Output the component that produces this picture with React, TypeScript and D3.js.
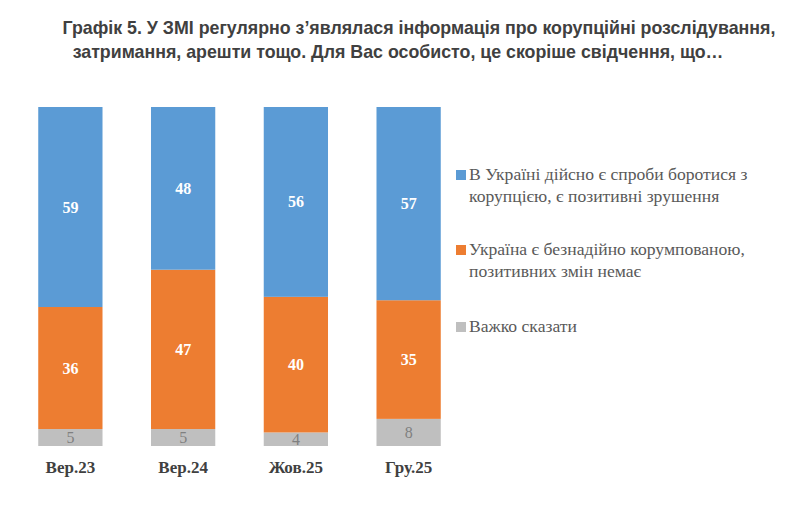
import React from "react";
import * as d3 from "d3";

const categories = ["Вер.23", "Вер.24", "Жов.25", "Гру.25"];
const positive = [59, 48, 56, 57];
const hopeless = [36, 47, 40, 35];
const hard = [5, 5, 4, 8];
const seriesNames = [
  ["В Україні дійсно є спроби боротися з", "корупцією, є позитивні зрушення"],
  ["Україна є безнадійно корумпованою,", "позитивних змін немає"],
  ["Важко сказати"],
];
const titleLines = [
  "Графік 5. У ЗМІ регулярно з’являлася інформація про корупційні розслідування,",
  "затримання, арешти тощо. Для Вас особисто, це скоріше свідчення, що…",
];

const colors = ["#5B9BD5", "#ED7D31", "#BFBFBF"];

export default function App() {
  const W = 792, H = 510;
  const x = d3.scaleBand<string>().domain(categories).range([14, 465]).paddingInner(0.43).paddingOuter(0.215);
  const y = d3.scaleLinear().domain([0, 100]).range([446, 107]);
  const rows = categories.map((c, i) => ({ c, pos: positive[i], hop: hopeless[i], hard: hard[i] }));
  const stack = d3.stack<any>().keys(["hard", "hop", "pos"])(rows);
  const serif = "Liberation Serif, Times New Roman, DejaVu Serif, serif";
  const sans = "Arial, Liberation Sans, sans-serif";
  const colorByKey: Record<string, string> = { pos: colors[0], hop: colors[1], hard: colors[2] };
  const legendY = [180, 255, 332];
  return (
    <svg width={W} height={H} style={{ position: "absolute", left: 0, top: 0, background: "#fff" }}>
      <rect width={W} height={H} fill="#fff" />
      {titleLines.map((t, i) => (
        <text key={i} x={i === 0 ? 419 : 398} y={34 + i * 24} textAnchor="middle" fontFamily={sans}
          fontWeight="bold" fontSize={17.8} fill="#404040">{t}</text>
      ))}
      {stack.map((s) => (
        <g key={s.key}>
          {s.map((d, i) => {
            const x0 = x(categories[i])!;
            const y0 = y(d[1]), y1 = y(d[0]);
            const v = d[1] - d[0];
            return (
              <g key={i}>
                <rect x={x0} y={y0} width={x.bandwidth()} height={y1 - y0} fill={colorByKey[s.key]} />
                <text x={x0 + x.bandwidth() / 2} y={(y0 + y1) / 2 + 5.5} textAnchor="middle"
                  fontFamily={serif} fontSize={16} fontWeight={s.key === "hard" ? "normal" : "bold"}
                  fill={s.key === "hard" ? "#7F7F7F" : "#ffffff"}>{v}</text>
              </g>
            );
          })}
        </g>
      ))}
      {categories.map((c) => (
        <text key={c} x={x(c)! + x.bandwidth() / 2} y={473} textAnchor="middle" fontFamily={serif}
          fontWeight="bold" fontSize={17} fill="#404040">{c}</text>
      ))}
      {seriesNames.map((lines, i) => (
        <g key={i}>
          <rect x={456} y={legendY[i] - 10} width={10} height={10} fill={colors[i]} />
          {lines.map((l, j) => (
            <text key={j} x={469} y={legendY[i] + j * 22} fontFamily={serif} fontSize={17.6} fill="#595959">{l}</text>
          ))}
        </g>
      ))}
    </svg>
  );
}
